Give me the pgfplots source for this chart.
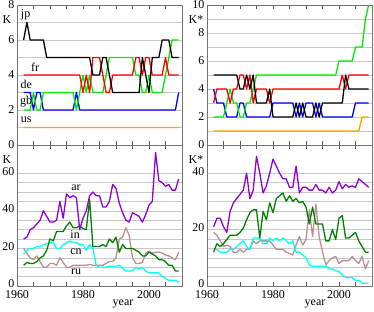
\documentclass[border=0pt]{standalone}
\usepackage{fontspec}
\setmainfont{Liberation Serif}
\usepackage{pgfplots}
\usepackage{pgfplotstable}
\pgfplotsset{compat=1.18}
\definecolor{cjp}{RGB}{0,0,0}
\definecolor{cfr}{RGB}{255,0,0}
\definecolor{cde}{RGB}{0,235,0}
\definecolor{cgb}{RGB}{0,0,255}
\definecolor{cus}{RGB}{255,165,0}
\definecolor{car}{RGB}{148,0,211}
\definecolor{cin}{RGB}{0,128,0}
\definecolor{ccn}{RGB}{0,255,255}
\definecolor{cru}{RGB}{188,143,143}

\pgfplotstableread{
year jp fr de gb us
1962 6 4 2 3 1
1963 7 4 2 3 1
1964 6 4 2 3 1
1965 6 4 3 2 1
1966 6 4 2 3 1
1967 6 4 2 3 1
1968 6 4 3 2 1
1969 5 4 3 2 1
1970 5 4 3 2 1
1971 5 4 3 2 1
1972 5 4 3 2 1
1973 5 4 3 2 1
1974 5 4 3 2 1
1975 5 4 3 2 1
1976 5 4 3 2 1
1977 5 4 3 2 1
1978 5 4 2 3 1
1979 5 4 3 2 1
1980 5 3 4 2 1
1981 5 4 3 2 1
1982 5 3 4 2 1
1983 4 5 3 2 1
1984 4 5 3 2 1
1985 4 5 3 2 1
1986 5 4 3 2 1
1987 5 3 4 2 1
1988 4 3 5 2 1
1989 3 4 5 2 1
1990 3 4 5 2 1
1991 3 4 5 2 1
1992 3 4 5 2 1
1993 3 4 5 2 1
1994 3 4 5 2 1
1995 3 4 5 2 1
1996 3 5 4 2 1
1997 3 5 4 2 1
1998 5 4 3 2 1
1999 4 5 3 2 1
2000 3 5 4 2 1
2001 5 4 3 2 1
2002 5 4 3 2 1
2003 5 4 3 2 1
2004 6 4 3 2 1
2005 6 5 4 2 1
2006 6 4 5 2 1
2007 5 4 6 2 1
2008 5 4 6 2 1
2009 5 4 6 3 1.004
}\rankK

\pgfplotstableread{
year jp fr de gb us
1962 5 3 2 4 1
1963 5 4 2 3 1
1964 5 4 2 3 1
1965 5 4 2 3 1
1966 5 4 3 2 1
1967 5 3 4 2 1
1968 5 4 3 2 1
1969 5 4 3 2 1
1970 4 5 2 3 1
1971 4 5 2 3 1
1972 5 4 3 2 1
1973 4 5 3 2 1
1974 5 3 4 2 1
1975 3 4 5 2 1
1976 3 4 5 2 1
1977 3 4 5 2 1
1978 3 4 5 2 1
1979 4 3 5 2 1
1980 2 4 5 3 1
1981 2 4 5 3 1
1982 2 4 5 3 1
1983 2 4 5 3 1
1984 2 4 5 3 1
1985 2 4 5 3 1
1986 2 4 5 3 1
1987 3 4 5 2 1
1988 2 4 5 3 1
1989 3 4 5 2 1
1990 2 4 5 3 1
1991 2 4 5 3 1
1992 2 4 5 3 1
1993 3 4 5 2 1
1994 2 4 5 3 1
1995 3 4 5 2 1
1996 3 4 5 2 1
1997 3 4 5 2 1
1998 3 4 5 2 1
1999 3 4 5 2 1
2000 3 4 6 2 1
2001 3 5 6 2 1
2002 5 4 6 2 1
2003 4 5 6 2 1
2004 4 5 6 2 1
2005 4 5 7 3 1
2006 4 5 7 3 1
2007 4 5 7 3 2
2008 4 5 9 3 2
2009 4 5 10 3 2
}\rankKs

\pgfplotstableread{
year ar in cn ru
1962 25 11 17 20
1963 26 12.5 19 17.5
1964 30 12 20 15
1965 31 12 20 14
1966 33 13 21 16
1967 35 15 21 13
1968 40 16 22 10
1969 37 19 22.5 10
1970 34 25 23 12
1971 34 24 23 12
1972 35 29 20 11
1973 45 29 20 15
1974 36 29 22 12.5
1975 49 32 23 10
1976 47 34 24 10
1977 48 31 23 11
1978 47 31 23 11
1979 30 32 22 11
1980 36 30.5 22 11
1981 40 30 19 11
1982 48 46 22 11.5
1983 50 21 20 11
1984 48 21 11 11
1985 48 21 10 11
1986 42 22 10 11
1987 42 21 10 12
1988 45 25 10.5 13
1989 54 23 10.5 13
1990 52 26 10.5 15
1991 44 18 11 25
1992 39 22 9.5 26
1993 35 20 8 31
1994 34 20 8 27
1995 39 20 8 15
1996 38 19 10 12
1997 37 18 9 12
1998 34 16 10 12.5
1999 38 16 8 17.5
2000 43 18 7 18.5
2001 45 17 7 17.5
2002 71 16 7 18
2003 56 14 7 18
2004 55 14 5 17.5
2005 53 13 4 16.5
2006 54 11 3 16
2007 51 11 3 15
2008 51 8 3 14
2009 57 8 2 18
}\bigK

\pgfplotstableread{
year ar in cn ru
1962 21 12 13 19
1963 24 15 13 18
1964 24 14 12 16
1965 21 15 12 14
1966 19 16.5 12 14.5
1967 26.5 18 13 14
1968 29.5 18 13 12
1969 31 18 14 12
1970 32.5 19 15 13
1971 34 20.5 16 12
1972 40 23.5 14 13
1973 31 26 13 13
1974 34 27 17 16
1975 46 27 17 15
1976 40 17 17 16
1977 33 26.5 15 16
1978 35.5 23.5 15 16
1979 40 29.5 17 16
1980 45 26 16 14.5
1981 42.5 31 17 13
1982 40 32 16 13
1983 38 33 17 13
1984 38 30 16 12
1985 35 32 15 11.5
1986 35 30 16 11
1987 42.5 31 12 14.5
1988 33 29.5 12 17.5
1989 35 30 11 14.5
1990 35 28 10 16.5
1991 34 22 7.5 27
1992 34 28 7 17.5
1993 36 22 7 29
1994 34 22 7 17.5
1995 34 22 7 12
1996 33 16 7 7.5
1997 35 16 6 9
1998 33 20 6 10
1999 34 16.5 5.5 10.5
2000 37 24 5 8
2001 34.5 25 4 9
2002 36 17 3 9
2003 35 17 3 9
2004 35.5 18 3 10.5
2005 35 19 2 9
2006 38 16 2 8
2007 37 14 1 10.5
2008 36 12 1 6
2009 35 12 1 9
}\bigKs

\pgfplotsset{panel/.style={
  scale only axis, width=165bp,
  xmin=1960, xmax=2010,
  xtick={1960,1980,2000},
  minor xtick={1965,1970,1975,1985,1990,1995,2005},
  tick align=inside,
  major tick length=4bp, minor tick length=4bp,
  ytick style={draw=none},
  ymajorgrids, yminorgrids,
  major grid style={black!22, line width=0.5pt},
  minor grid style={black!22, line width=0.5pt},
  axis line style={black!55, line width=0.8pt},
  xtick style={black!65, line width=0.6pt},
  tick label style={font=\fontsize{12}{12}\selectfont, inner sep=0.5bp},
  xticklabel style={yshift=-3.5bp},
  yticklabel style={xshift=-2bp},
  /pgf/number format/assume math mode=true,
  clip=false,
  every axis plot/.append style={line width=1.3pt, line join=round},
}}

\begin{document}
\begin{tikzpicture}[font=\fontsize{12}{12}\selectfont]
\path[use as bounding box] (0,0) rectangle (374bp,312bp);

% top-left
\begin{axis}[panel, at={(17bp,167bp)}, anchor=south west, height=140bp,
  ymin=0, ymax=8, ytick={0,2,4,6,8}, minor ytick={1,3,5,7}, xticklabels={}]
\addplot[cus, line width=1.4pt] table[x=year,y=us]{\rankK};
\addplot[cgb] table[x=year,y=gb]{\rankK};
\addplot[cde] table[x=year,y=de]{\rankK};
\addplot[cfr] table[x=year,y=fr]{\rankK};
\addplot[cjp] table[x=year,y=jp]{\rankK};
\end{axis}

% top-right
\begin{axis}[panel, at={(207bp,167bp)}, anchor=south west, height=140bp,
  ymin=0, ymax=10, ytick={0,2,4,6,8,10}, minor ytick={1,3,5,7,9}, xticklabels={}]
\addplot[cus, line width=1.4pt] table[x=year,y=us]{\rankKs};
\addplot[cgb] table[x=year,y=gb]{\rankKs};
\addplot[cde] table[x=year,y=de]{\rankKs};
\addplot[cfr] table[x=year,y=fr]{\rankKs};
\addplot[cjp] table[x=year,y=jp]{\rankKs};
\end{axis}

% bottom-left
\begin{axis}[panel, at={(17bp,26bp)}, anchor=south west, height=141bp,
  ymin=0, ymax=75, ytick={0,20,40,60}, minor y tick num=3,
  yticklabel style={yshift=2bp},
  xticklabels={1960,1980,2000}]
\addplot[cru] table[x=year,y=ru]{\bigK};
\addplot[ccn] table[x=year,y=cn]{\bigK};
\addplot[cin] table[x=year,y=in]{\bigK};
\addplot[car] table[x=year,y=ar]{\bigK};
\node at (axis cs:1977.9,52.5) {ar};
\node at (axis cs:1977.6,27.3) {in};
\node at (axis cs:1977.9,18.2) {cn};
\node at (axis cs:1977.9,7.5) {ru};
\end{axis}

% bottom-right
\begin{axis}[panel, at={(207bp,26bp)}, anchor=south west, height=141bp,
  ymin=0, ymax=50, ytick={0,20,40}, minor y tick num=5,
  yticklabel style={yshift=2bp},
  xticklabels={1960,1980,2000}]
\addplot[cru] table[x=year,y=ru]{\bigKs};
\addplot[ccn] table[x=year,y=cn]{\bigKs};
\addplot[cin] table[x=year,y=in]{\bigKs};
\addplot[car] table[x=year,y=ar]{\bigKs};
\end{axis}

\node at (25.6bp,297.4bp) {jp};
\node at (35.2bp,244.9bp) {fr};
\node at (26.2bp,227.4bp) {de};
\node at (26.2bp,209.9bp) {gb};
\node at (26.2bp,192.4bp) {us};
\node at (7bp,292bp) {K};
\node at (196bp,292bp) {K*};
\node at (7bp,152bp) {K};
\node at (196bp,152bp) {K*};
\node[anchor=base] at (123bp,7bp) {year};
\node[anchor=base] at (315bp,7bp) {year};
\end{tikzpicture}
\end{document}
